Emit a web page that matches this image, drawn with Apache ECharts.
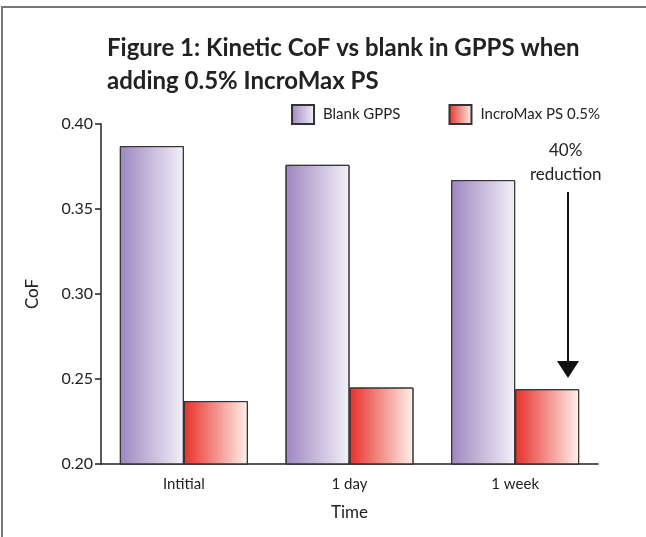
<!DOCTYPE html>
<html>
<head>
<meta charset="utf-8">
<script src="https://cdn.jsdelivr.net/npm/echarts@6/dist/echarts.min.js"></script>
<style>
  html, body { margin: 0; padding: 0; background: #fff; }
  #chart { width: 646px; height: 537px; }
</style>
</head>
<body>
<div id="chart"></div>
<script>
var categories = ['Intitial', '1 day', '1 week']
var blankGpps = [0.387, 0.376, 0.367]
var incroMax = [0.237, 0.245, 0.244]
var yTicks = { min: 0.2, max: 0.4, interval: 0.05 }

var font = 'Lato, "Open Sans", sans-serif'
var chart = echarts.init(document.getElementById('chart'))

function grad(from, to) {
  return new echarts.graphic.LinearGradient(0, 0, 1, 0, [
    { offset: 0, color: from },
    { offset: 1, color: to }
  ])
}

chart.setOption({
  backgroundColor: '#fff',
  textStyle: { fontFamily: font },
  title: {
    text: 'Figure 1: Kinetic CoF vs blank in GPPS when\nadding 0.5% IncroMax PS',
    left: 102,
    top: 27,
    textStyle: { fontSize: 24, fontWeight: 'bold', color: '#222', lineHeight: 33, fontFamily: font }
  },
  legend: {
    left: 286,
    top: 99,
    itemWidth: 22,
    itemHeight: 19,
    itemGap: 48,
    icon: 'rect',
    textStyle: { fontSize: 15, color: '#222', padding: [0, 0, 0, 4] },
    data: ['Blank GPPS', 'IncroMax PS 0.5%']
  },
  grid: { left: 101, right: 48, top: 124, bottom: 73 },
  xAxis: {
    type: 'category',
    data: categories,
    name: 'Time',
    nameLocation: 'middle',
    nameGap: 40,
    nameTextStyle: { fontSize: 17, color: '#222' },
    axisLine: { lineStyle: { color: '#222', width: 1.5 } },
    axisTick: { show: false },
    axisLabel: { fontSize: 15, color: '#222', margin: 13 }
  },
  yAxis: {
    type: 'value',
    min: yTicks.min,
    max: yTicks.max,
    interval: yTicks.interval,
    name: 'CoF',
    nameLocation: 'middle',
    nameGap: 60,
    nameTextStyle: { fontSize: 17, color: '#222' },
    axisLine: { show: true, lineStyle: { color: '#222', width: 1.5 } },
    axisTick: { show: true, length: 6, lineStyle: { color: '#222', width: 1.5 } },
    axisLabel: { fontSize: 16, color: '#222', margin: 8, formatter: function (v) { return v.toFixed(2) } },
    splitLine: { show: false }
  },
  series: [
    {
      name: 'Blank GPPS',
      type: 'bar',
      data: blankGpps,
      barWidth: 64,
      barGap: '0%',
      itemStyle: { color: grad('#9d86c0', '#f3f0f9'), borderColor: '#333', borderWidth: 1 }
    },
    {
      name: 'IncroMax PS 0.5%',
      type: 'bar',
      data: incroMax,
      barWidth: 64,
      itemStyle: { color: grad('#e8302a', '#fff1eb'), borderColor: '#333', borderWidth: 1 }
    }
  ],
  graphic: [
    // frame round the figure
    { type: 'polyline', shape: { points: [[2, 537], [2, 7], [646, 7]] }, style: { stroke: '#777', lineWidth: 2, fill: null } },
    // 40% reduction note
    { type: 'text', left: 549, top: 142, style: { text: '40%', fontSize: 17, fill: '#222', fontFamily: font } },
    { type: 'text', left: 530, top: 166, style: { text: 'reduction', fontSize: 17, fill: '#222', fontFamily: font } },
    { type: 'line', shape: { x1: 568, y1: 192, x2: 568, y2: 362 }, style: { stroke: '#111', lineWidth: 2 } },
    { type: 'polygon', shape: { points: [[557, 361], [579, 361], [568, 378]] }, style: { fill: '#111' } }
  ]
})
</script>
</body>
</html>
